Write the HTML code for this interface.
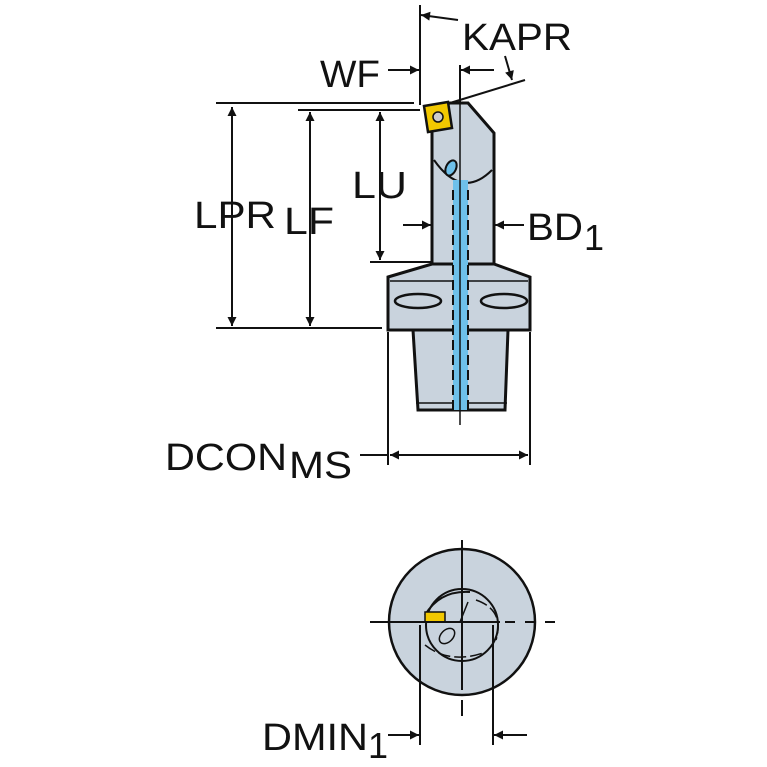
<!DOCTYPE html>
<html><head><style>body{margin:0;background:#fff}svg{display:block}text{font-family:"Liberation Sans",sans-serif;fill:#111}</style></head><body>
<svg width="767" height="767" viewBox="0 0 767 767" xmlns="http://www.w3.org/2000/svg">
<defs><marker id="a" viewBox="0 0 10 10" refX="10" refY="5" markerWidth="13" markerHeight="9" orient="auto-start-reverse" markerUnits="userSpaceOnUse"><path d="M0,0L10,5L0,10z" fill="#111"/></marker></defs>
<g stroke="#111" stroke-width="2" fill="none">
<line x1="216" y1="103" x2="414" y2="103"/>
<line x1="298" y1="110" x2="420" y2="110"/>
<line x1="216" y1="328" x2="382" y2="328"/>
<line x1="370" y1="262" x2="432" y2="262"/>
<line x1="420" y1="5" x2="420" y2="105"/>
<line x1="460" y1="65" x2="460" y2="105"/>
<line x1="450" y1="103" x2="525" y2="80"/>
<line x1="232" y1="107" x2="232" y2="326" marker-start="url(#a)" marker-end="url(#a)"/>
<line x1="310" y1="112" x2="310" y2="326" marker-start="url(#a)" marker-end="url(#a)"/>
<line x1="380" y1="112" x2="380" y2="260" marker-start="url(#a)" marker-end="url(#a)"/>
<line x1="458" y1="20" x2="421" y2="15" marker-end="url(#a)"/>
<line x1="388" y1="70" x2="419" y2="70" marker-end="url(#a)"/>
<line x1="494" y1="70" x2="461" y2="70" marker-end="url(#a)"/>
<line x1="505" y1="56" x2="512" y2="80" marker-end="url(#a)"/>
<line x1="403" y1="225" x2="431" y2="225" marker-end="url(#a)"/>
<line x1="524" y1="225" x2="495" y2="225" marker-end="url(#a)"/>
<line x1="388" y1="332" x2="388" y2="465"/>
<line x1="530" y1="332" x2="530" y2="465"/>
<line x1="360" y1="455" x2="388" y2="455"/>
<line x1="390" y1="455" x2="528" y2="455" marker-start="url(#a)" marker-end="url(#a)"/>
</g>
<g stroke="#111" stroke-width="3" fill="#c9d3dd">
<path d="M413,330 L508,330 L505,410 L418,410 Z"/>
<path d="M388,277 L432,264 L494,264 L530,277 L530,330 L388,330 Z"/>
<path d="M432,110 L450,103 L468,103 L494,133 L494,264 L432,264 Z"/>
</g>
<path d="M434,160 Q462,200 492,170" stroke="#111" stroke-width="2" fill="none"/>
<line x1="390" y1="281" x2="528" y2="281" stroke="#111" stroke-width="1.5"/>
<line x1="416" y1="403" x2="507" y2="403" stroke="#111" stroke-width="1.5"/>
<ellipse cx="418" cy="301" rx="23" ry="7" fill="#c9d3dd" stroke="#111" stroke-width="2.5"/>
<ellipse cx="504" cy="301" rx="23" ry="7" fill="#c9d3dd" stroke="#111" stroke-width="2.5"/>
<rect x="453" y="180" width="15" height="230" fill="#6ec0ea"/>
<line x1="453" y1="190" x2="453" y2="410" stroke="#111" stroke-width="2" stroke-dasharray="10,5"/>
<line x1="468" y1="190" x2="468" y2="410" stroke="#111" stroke-width="2" stroke-dasharray="10,5"/>
<ellipse cx="451" cy="168" rx="5" ry="8" fill="#6ec0ea" stroke="#111" stroke-width="2" transform="rotate(25 451 168)"/>
<line x1="460" y1="100" x2="460" y2="425" stroke="#111" stroke-width="1.5"/>
<path d="M424,106 L448,102 L452,128 L428,132 Z" fill="#f2c800" stroke="#111" stroke-width="2.5"/>
<circle cx="438" cy="117" r="5" fill="#ccc" stroke="#111" stroke-width="1.5"/>
<text x="462" y="50" font-size="38" textLength="110" lengthAdjust="spacingAndGlyphs">KAPR</text>
<text x="320" y="87" font-size="38" textLength="60" lengthAdjust="spacingAndGlyphs">WF</text>
<text x="194" y="228" font-size="38" textLength="82" lengthAdjust="spacingAndGlyphs">LPR</text>
<text x="284" y="234" font-size="38" textLength="50" lengthAdjust="spacingAndGlyphs">LF</text>
<text x="352" y="198" font-size="38" textLength="55" lengthAdjust="spacingAndGlyphs">LU</text>
<text x="527" y="240" font-size="38" textLength="56" lengthAdjust="spacingAndGlyphs">BD</text>
<text x="584" y="250" font-size="36">1</text>
<text x="165" y="470" font-size="38" textLength="122" lengthAdjust="spacingAndGlyphs">DCON</text>
<text x="289" y="478" font-size="38" textLength="63" lengthAdjust="spacingAndGlyphs">MS</text>
<text x="262" y="750" font-size="38" textLength="106" lengthAdjust="spacingAndGlyphs">DMIN</text>
<text x="368" y="758" font-size="36">1</text>
<circle cx="462" cy="622" r="73" fill="#c9d3dd" stroke="#111" stroke-width="2.5"/>
<circle cx="462" cy="625" r="36" fill="none" stroke="#111" stroke-width="2"/>
<path d="M425,615 Q440,590 470,592" fill="none" stroke="#111" stroke-width="2"/>
<path d="M476,600 Q505,610 496,640" fill="none" stroke="#111" stroke-width="1.5" stroke-dasharray="12,4"/>
<path d="M425,645 Q450,665 486,652" fill="none" stroke="#111" stroke-width="1.5" stroke-dasharray="12,4"/>
<path d="M468,602 L460,622" stroke="#111" stroke-width="1.5"/>
<ellipse cx="447" cy="636" rx="6" ry="9" fill="#c9d3dd" stroke="#111" stroke-width="1.5" transform="rotate(45 447 636)"/>
<rect x="425" y="612" width="20" height="10" fill="#f2c800" stroke="#111" stroke-width="1.5"/>
<g stroke="#111" stroke-width="2">
<line x1="370" y1="622" x2="500" y2="622"/>
<line x1="505" y1="622" x2="555" y2="622" stroke-dasharray="10,10"/>
<line x1="462" y1="540" x2="462" y2="690"/>
<line x1="462" y1="700" x2="462" y2="716"/>
<line x1="420" y1="625" x2="420" y2="745"/>
<line x1="493" y1="625" x2="493" y2="745"/>
</g>
<line x1="388" y1="735" x2="419" y2="735" stroke="#111" stroke-width="2" marker-end="url(#a)"/>
<line x1="527" y1="735" x2="494" y2="735" stroke="#111" stroke-width="2" marker-end="url(#a)"/>
</svg>
</body></html>
